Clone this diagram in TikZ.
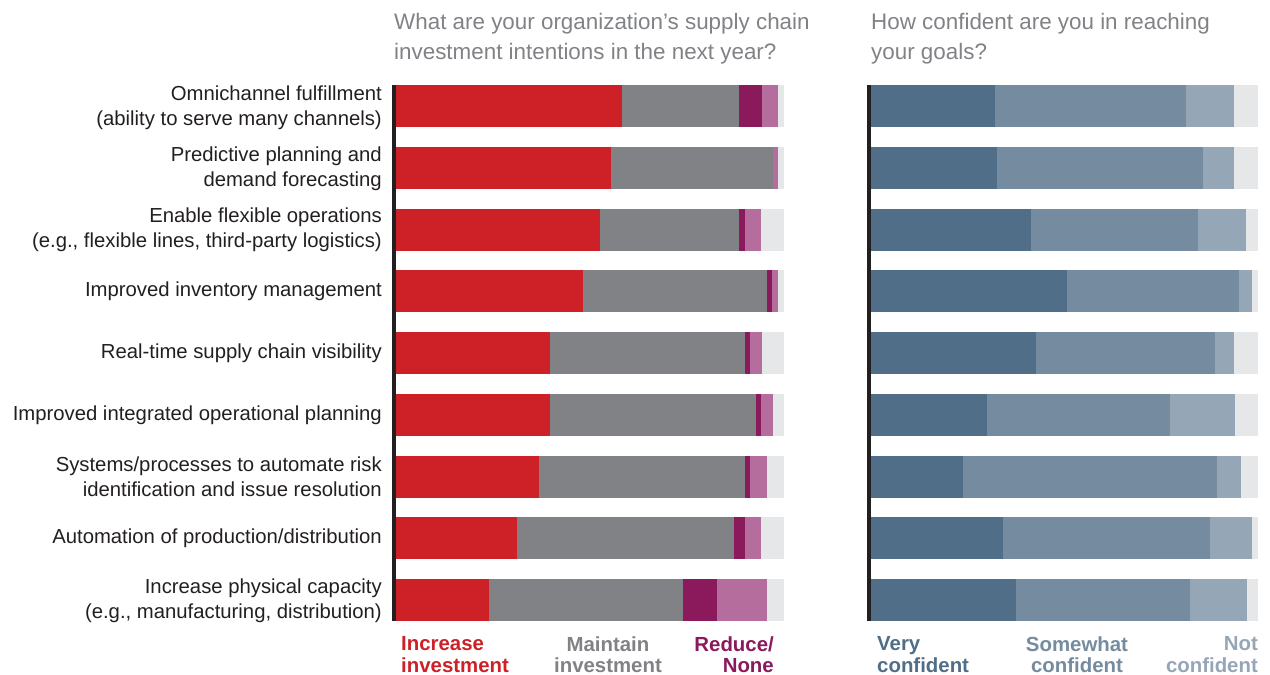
\documentclass[tikz,border=0pt]{standalone}
\usepackage{fontspec}
\setmainfont{Liberation Sans}
\definecolor{invred}{HTML}{CD2027}
\definecolor{invgray}{HTML}{818285}
\definecolor{redpurple}{HTML}{8A1A5C}
\definecolor{nonepurple}{HTML}{B46D9C}
\definecolor{blankgray}{HTML}{E6E7E8}
\definecolor{veryblue}{HTML}{506E87}
\definecolor{someblue}{HTML}{758B9F}
\definecolor{notblue}{HTML}{95A6B6}
\definecolor{titlegray}{HTML}{808285}
\definecolor{labelblack}{HTML}{231F20}

\begin{document}
\begin{tikzpicture}[x=1pt, y=-1pt,
rowlabel/.style={anchor=east, align=right, inner sep=0pt, text=labelblack, font=\fontsize{20.3}{25.3}\selectfont},
question/.style={anchor=north west, align=left, inner sep=0pt, text=titlegray, font=\fontsize{22.4}{30}\selectfont},
legendtext/.style={inner sep=0pt, font=\bfseries\fontsize{20.4}{21.5}\selectfont},
axisline/.style={line width=4pt, draw=labelblack}
]
    \useasboundingbox (0,0) rectangle (1270,675);

    \node [question] (q1) at (394,13.5) {What are your organization’s supply chain\\investment intentions in the next year?};
    \node [question] (q2) at (871,13.5) {How confident are you in reaching\\your goals?};

    \node [rowlabel] (l1) at (382,108) {Omnichannel fulfillment\\(ability to serve many channels)};
    \node [rowlabel] (l2) at (382,169) {Predictive planning and\\demand forecasting};
    \node [rowlabel] (l3) at (382,230) {Enable flexible operations\\(e.g., flexible lines, third-party logistics)};
    \node [rowlabel] (l4) at (382,291.5) {Improved inventory management};
    \node [rowlabel] (l5) at (382,353) {Real-time supply chain visibility};
    \node [rowlabel] (l6) at (382,415) {Improved integrated operational planning};
    \node [rowlabel] (l7) at (382,477) {Systems/processes to automate risk\\identification and issue resolution};
    \node [rowlabel] (l8) at (382,538.5) {Automation of production/distribution};
    \node [rowlabel] (l9) at (382,600.5) {Increase physical capacity\\(e.g., manufacturing, distribution)};

    % investment bars
    \fill[blankgray] (394,85) rectangle (784,127); \fill[nonepurple] (394,85) rectangle (778,127); \fill[redpurple] (394,85) rectangle (762,127); \fill[invgray] (394,85) rectangle (739,127); \fill[invred] (394,85) rectangle (622,127);
    \fill[blankgray] (394,146.75) rectangle (784,188.75); \fill[nonepurple] (394,146.75) rectangle (778,188.75); \fill[invgray] (394,146.75) rectangle (773,188.75); \fill[invred] (394,146.75) rectangle (611,188.75);
    \fill[blankgray] (394,208.5) rectangle (784,250.5); \fill[nonepurple] (394,208.5) rectangle (761,250.5); \fill[redpurple] (394,208.5) rectangle (745,250.5); \fill[invgray] (394,208.5) rectangle (739,250.5); \fill[invred] (394,208.5) rectangle (600,250.5);
    \fill[blankgray] (394,270.25) rectangle (784,312.25); \fill[nonepurple] (394,270.25) rectangle (778,312.25); \fill[redpurple] (394,270.25) rectangle (772,312.25); \fill[invgray] (394,270.25) rectangle (767,312.25); \fill[invred] (394,270.25) rectangle (583,312.25);
    \fill[blankgray] (394,332) rectangle (784,374); \fill[nonepurple] (394,332) rectangle (762,374); \fill[redpurple] (394,332) rectangle (750,374); \fill[invgray] (394,332) rectangle (745,374); \fill[invred] (394,332) rectangle (550,374);
    \fill[blankgray] (394,393.75) rectangle (784,435.75); \fill[nonepurple] (394,393.75) rectangle (773,435.75); \fill[redpurple] (394,393.75) rectangle (761,435.75); \fill[invgray] (394,393.75) rectangle (756,435.75); \fill[invred] (394,393.75) rectangle (550,435.75);
    \fill[blankgray] (394,455.5) rectangle (784,497.5); \fill[nonepurple] (394,455.5) rectangle (767,497.5); \fill[redpurple] (394,455.5) rectangle (750,497.5); \fill[invgray] (394,455.5) rectangle (745,497.5); \fill[invred] (394,455.5) rectangle (539,497.5);
    \fill[blankgray] (394,517.25) rectangle (784,559.25); \fill[nonepurple] (394,517.25) rectangle (761,559.25); \fill[redpurple] (394,517.25) rectangle (745,559.25); \fill[invgray] (394,517.25) rectangle (734,559.25); \fill[invred] (394,517.25) rectangle (517,559.25);
    \fill[blankgray] (394,579) rectangle (784,621); \fill[nonepurple] (394,579) rectangle (767,621); \fill[redpurple] (394,579) rectangle (717,621); \fill[invgray] (394,579) rectangle (683,621); \fill[invred] (394,579) rectangle (489,621);

    % confidence bars
    \fill[blankgray] (869,85) rectangle (1258,127); \fill[notblue] (869,85) rectangle (1234,127); \fill[someblue] (869,85) rectangle (1186,127); \fill[veryblue] (869,85) rectangle (995,127);
    \fill[blankgray] (869,146.75) rectangle (1258,188.75); \fill[notblue] (869,146.75) rectangle (1234,188.75); \fill[someblue] (869,146.75) rectangle (1203,188.75); \fill[veryblue] (869,146.75) rectangle (997,188.75);
    \fill[blankgray] (869,208.5) rectangle (1258,250.5); \fill[notblue] (869,208.5) rectangle (1246,250.5); \fill[someblue] (869,208.5) rectangle (1198,250.5); \fill[veryblue] (869,208.5) rectangle (1031,250.5);
    \fill[blankgray] (869,270.25) rectangle (1258,312.25); \fill[notblue] (869,270.25) rectangle (1252,312.25); \fill[someblue] (869,270.25) rectangle (1239,312.25); \fill[veryblue] (869,270.25) rectangle (1067,312.25);
    \fill[blankgray] (869,332) rectangle (1258,374); \fill[notblue] (869,332) rectangle (1234,374); \fill[someblue] (869,332) rectangle (1215,374); \fill[veryblue] (869,332) rectangle (1036,374);
    \fill[blankgray] (869,393.75) rectangle (1258,435.75); \fill[notblue] (869,393.75) rectangle (1235,435.75); \fill[someblue] (869,393.75) rectangle (1170,435.75); \fill[veryblue] (869,393.75) rectangle (987,435.75);
    \fill[blankgray] (869,455.5) rectangle (1258,497.5); \fill[notblue] (869,455.5) rectangle (1241,497.5); \fill[someblue] (869,455.5) rectangle (1217,497.5); \fill[veryblue] (869,455.5) rectangle (963,497.5);
    \fill[blankgray] (869,517.25) rectangle (1258,559.25); \fill[notblue] (869,517.25) rectangle (1252,559.25); \fill[someblue] (869,517.25) rectangle (1210,559.25); \fill[veryblue] (869,517.25) rectangle (1003,559.25);
    \fill[blankgray] (869,579) rectangle (1258,621); \fill[notblue] (869,579) rectangle (1247,621); \fill[someblue] (869,579) rectangle (1190,621); \fill[veryblue] (869,579) rectangle (1016,621);

    \draw [axisline] (394,85) -- (394,621);
    \draw [axisline] (868.5,85) -- (868.5,621);

    \node [legendtext, anchor=north west, align=left, text=invred] (k1) at (401,636.5) {Increase\\investment};
    \node [legendtext, anchor=north, align=center, text=invgray] (k2) at (608,636.5) {Maintain\\investment};
    \node [legendtext, anchor=north east, align=right, text=redpurple] (k3) at (774,636.5) {Reduce/\\None};
    \node [legendtext, anchor=north west, align=left, text=veryblue] (k4) at (877,636.5) {Very\\confident};
    \node [legendtext, anchor=north, align=center, text=someblue] (k5) at (1077,636.5) {Somewhat\\confident};
    \node [legendtext, anchor=north east, align=right, text=notblue] (k6) at (1258,636.5) {Not\\confident};
    \end{tikzpicture}
\end{document}
